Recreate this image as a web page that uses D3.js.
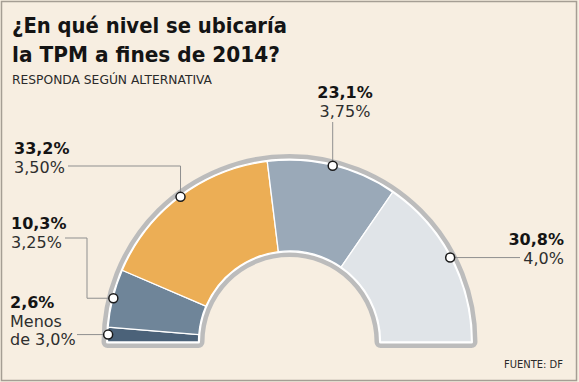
<!DOCTYPE html>
<html>
<head>
<meta charset="utf-8">
<script src="https://cdn.jsdelivr.net/npm/d3@7"></script>
<style>
  body { margin: 0; background: #f7eee1; }
  text { font-family: "DejaVu Sans", Verdana, sans-serif; }
</style>
</head>
<body>
<div id="chart"></div>
<script>
// data
const categories = ["Menos de 3,0%", "3,25%", "3,50%", "3,75%", "4,0%"];
const shares = [2.6, 10.3, 33.2, 23.1, 30.8];
const shareLabels = ["2,6%", "10,3%", "33,2%", "23,1%", "30,8%"];
const colors = ["#4b6279", "#6f8599", "#ecae55", "#9aa9b8", "#e0e4e8"];

const W = 579, H = 382;
const cx = 289.5, cy = 342;
const rIn = 91, rOut = 182;

const svg = d3.select("#chart").append("svg")
  .attr("width", W).attr("height", H);

// frame
svg.append("rect")
  .attr("x", 1.5).attr("y", 1.5)
  .attr("width", W - 4).attr("height", H - 3)
  .attr("fill", "#f7eee1")
  .attr("stroke", "#a59e94").attr("stroke-width", 1.5);

// title
svg.append("text").attr("x", 12).attr("y", 33)
  .attr("font-size", 21).attr("font-weight", "bold").attr("fill", "#141414")
  .attr("textLength", 275).attr("lengthAdjust", "spacingAndGlyphs")
  .text("¿En qué nivel se ubicaría");
svg.append("text").attr("x", 12).attr("y", 62)
  .attr("font-size", 21).attr("font-weight", "bold").attr("fill", "#141414")
  .attr("textLength", 268).attr("lengthAdjust", "spacingAndGlyphs")
  .text("la TPM a fines de 2014?");
svg.append("text").attr("x", 12).attr("y", 84)
  .attr("font-size", 11.5).attr("fill", "#2a2a2a")
  .attr("textLength", 200).attr("lengthAdjust", "spacingAndGlyphs")
  .text("RESPONDA SEGÚN ALTERNATIVA");

const pie = d3.pie().sort(null)
  .startAngle(-Math.PI / 2).endAngle(Math.PI / 2);
const arcs = pie(shares);

const arc = d3.arc().innerRadius(rIn).outerRadius(rOut);
const half = arc({startAngle: -Math.PI / 2, endAngle: Math.PI / 2});

const g = svg.append("g").attr("transform", `translate(${cx},${cy})`);

// grey outline + white rim
g.append("path").attr("d", half)
  .attr("fill", "#bcbcbc").attr("stroke", "#bcbcbc")
  .attr("stroke-width", 12).attr("stroke-linejoin", "round");
g.append("path").attr("d", half)
  .attr("fill", "#fff").attr("stroke", "#fff")
  .attr("stroke-width", 3).attr("stroke-linejoin", "round");

g.selectAll("path.seg")
  .data(arcs)
  .join("path")
  .attr("class", "seg")
  .attr("d", arc)
  .attr("fill", (d, i) => colors[i])
  .attr("stroke", "#fff").attr("stroke-width", 1.3);

// dot positions on the outer edge
function dotPos(d) {
  const a = (d.startAngle + d.endAngle) / 2;
  const r = rOut - 0.5;
  return [cx + r * Math.sin(a), cy - r * Math.cos(a)];
}
const pts = arcs.map(dotPos);

// leader lines
const leaders = [
  [[pts[0][0], pts[0][1]], [77, pts[0][1]]],
  [[pts[1][0], pts[1][1]], [87, pts[1][1]], [87, 238], [65, 238]],
  [[pts[2][0], pts[2][1]], [pts[2][0], 166], [68, 166]],
  [[pts[3][0], pts[3][1]], [pts[3][0], 122]],
  [[pts[4][0], pts[4][1]], [520, pts[4][1]]]
];
svg.selectAll("path.lead")
  .data(leaders)
  .join("path")
  .attr("class", "lead")
  .attr("d", d3.line())
  .attr("fill", "none")
  .attr("stroke", "#8f8f8f").attr("stroke-width", 1);

svg.selectAll("circle.dot")
  .data(pts)
  .join("circle")
  .attr("class", "dot")
  .attr("cx", d => d[0]).attr("cy", d => d[1])
  .attr("r", 4.5)
  .attr("fill", "#fff")
  .attr("stroke", "#1a1a1a").attr("stroke-width", 1.5);

// labels
const labelPos = [
  {x: 10, y: 308, anchor: "start"},
  {x: 11, y: 229, anchor: "start"},
  {x: 14, y: 154, anchor: "start"},
  {x: 345, y: 98, anchor: "middle"},
  {x: 564, y: 245, anchor: "end"}
];
const lab = svg.selectAll("g.lab")
  .data(arcs)
  .join("g")
  .attr("class", "lab")
  .attr("transform", (d, i) => `translate(${labelPos[i].x},${labelPos[i].y})`)
  .attr("text-anchor", (d, i) => labelPos[i].anchor);

lab.append("text")
  .attr("font-size", 16).attr("font-weight", "bold").attr("fill", "#141414")
  .text((d, i) => shareLabels[i]);

lab.each(function(d, i) {
  const t = d3.select(this).append("text")
    .attr("font-size", 16).attr("fill", "#2e2e2e");
  const words = i === 0 ? ["Menos", "de 3,0%"] : [categories[i]];
  words.forEach((w, k) => {
    t.append("tspan").attr("x", 0).attr("y", 18.5 * (k + 1)).text(w);
  });
});

svg.append("text").attr("x", 563).attr("y", 368)
  .attr("text-anchor", "end")
  .attr("font-size", 11).attr("fill", "#2a2a2a")
  .attr("textLength", 59).attr("lengthAdjust", "spacingAndGlyphs")
  .text("FUENTE: DF");
</script>
</body>
</html>
